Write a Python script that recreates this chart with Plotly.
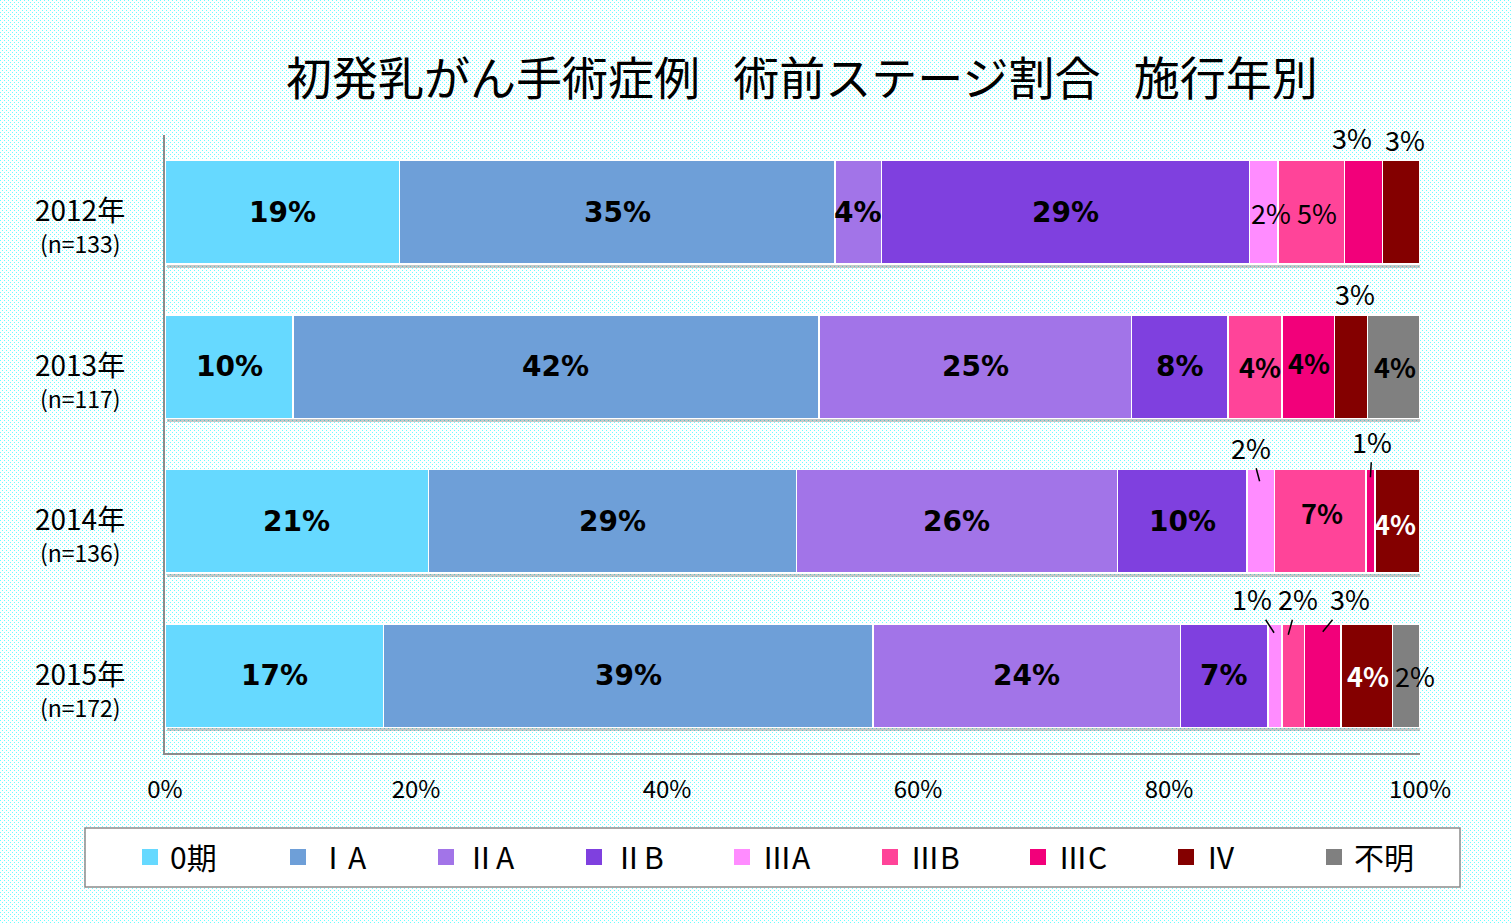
import base64
import struct
import zlib

import plotly.graph_objects as go

# ---------------- data ----------------
years = ["2012年", "2013年", "2014年", "2015年"]
n_labels = ["(n=133)", "(n=117)", "(n=136)", "(n=172)"]
stages = ["0期", "ⅠA", "ⅡA", "ⅡB", "ⅢA", "ⅢB", "ⅢC", "Ⅳ", "不明"]
# percentage of each stage per year (rows: years, cols: stages)
pct_2012 = [18.7, 34.7, 3.7, 29.3, 2.3, 5.3, 3.0, 3.0, 0.0]
pct_2013 = [10.2, 41.9, 24.9, 7.7, 0.0, 4.3, 4.2, 2.6, 4.2]
pct_2014 = [21.0, 29.3, 25.6, 10.3, 2.2, 7.3, 0.7, 3.6, 0.0]
pct_2015 = [17.4, 39.0, 24.5, 7.0, 1.1, 1.8, 2.9, 4.1, 2.2]
pct_rows = [pct_2012, pct_2013, pct_2014, pct_2015]
x_tick_vals = [0, 20, 40, 60, 80, 100]
x_tick_text = ["0%", "20%", "40%", "60%", "80%", "100%"]
title_text = "初発乳がん手術症例\u2002\u00a0術前ステージ割合\u2002\u00a0施行年別"

# ---------------- styles ----------------
colors = ["#66D9FF", "#6E9FD8", "#A274E8", "#7F40DF", "#FF8CFF",
          "#FF4499", "#F2007A", "#840000", "#808080"]

W, H = 1512, 923
ML, MR, MT, MB = 165, 92, 135, 170
PW, PH = W - ML - MR, H - MT - MB

# label placement: (year idx, stage idx, style, xshift, yshift, ax, ay)
label_specs = [
    (0, 0, "B", 0, 0, None, None), (0, 1, "B", 0, 0, None, None),
    (0, 2, "B", 0, 0, None, None), (0, 3, "B", 0, 0, None, None),
    (0, 4, "n", 7, 0, None, None), (0, 5, "n", 6, 0, None, None),
    (0, 6, "n", -12, 75, None, None), (0, 7, "n", 4, 73, None, None),
    (1, 0, "B", 0, 0, None, None), (1, 1, "B", 0, 0, None, None),
    (1, 2, "B", 0, 0, None, None), (1, 3, "B", 0, 0, None, None),
    (1, 5, "b", 5, 0, None, None), (1, 6, "b", 1, 4, None, None),
    (1, 7, "n", 4, 73, None, None), (1, 8, "b", 1, 0, None, None),
    (2, 0, "B", 0, 0, None, None), (2, 1, "B", 0, 0, None, None),
    (2, 2, "B", 0, 0, None, None), (2, 3, "B", 0, 0, None, None),
    (2, 4, "n", -1, 40, -9, -34), (2, 5, "b", 2, 9, None, None),
    (2, 6, "n", 0, 44, 2, -36), (2, 7, "bw", -2, -2, None, None),
    (3, 0, "B", 0, 0, None, None), (3, 1, "B", 0, 0, None, None),
    (3, 2, "B", 0, 0, None, None), (3, 3, "B", 0, 0, None, None),
    (3, 4, "n", -1, 43, -22, -34), (3, 5, "n", -5, 41, 10, -36),
    (3, 6, "n", 0, 44, 27, -33), (3, 7, "bw", 1, 0, None, None),
    (3, 8, "n", 9, 0, None, None),
]
fonts = {
    "B": dict(family="DejaVu Sans", size=28, color="black", weight="bold"),
    "b": dict(family="Noto Sans CJK JP", size=27, color="black", weight="bold"),
    "bw": dict(family="Noto Sans CJK JP", size=27, color="white", weight="bold"),
    "n": dict(family="Noto Sans CJK JP", size=27, color="black"),
}


# ---------------- background texture ----------------
def make_bg_png():
    white = b"\xff\xff\xff"
    dot = bytes([110, 252, 255])
    rowA = b"\x00" + b"".join(dot if x % 4 == 0 else white for x in range(W))
    rowB = b"\x00" + b"".join(dot if x % 4 == 2 else white for x in range(W))
    rowW = b"\x00" + white * W
    raw = b"".join(rowA if y % 4 == 0 else rowB if y % 4 == 2 else rowW for y in range(H))

    def chunk(t, d):
        return struct.pack(">I", len(d)) + t + d + struct.pack(">I", zlib.crc32(t + d) & 0xFFFFFFFF)

    png = (b"\x89PNG\r\n\x1a\n"
           + chunk(b"IHDR", struct.pack(">IIBBBBB", W, H, 8, 2, 0, 0, 0))
           + chunk(b"IDAT", zlib.compress(raw, 9))
           + chunk(b"IEND", b""))
    return "data:image/png;base64," + base64.b64encode(png).decode()


fig = go.Figure()

# shadow (base axes, slightly shifted)
totals = [sum(r) for r in pct_rows]
fig.add_trace(go.Bar(
    y=years, x=totals, orientation="h", xaxis="x", yaxis="y",
    marker=dict(color="rgba(0,0,0,0.22)", line=dict(width=0)),
    showlegend=False, hoverinfo="skip",
))

# main stacked bars
for si, st in enumerate(stages):
    fig.add_trace(go.Bar(
        y=years, x=[r[si] for r in pct_rows], orientation="h", name=st,
        xaxis="x2", yaxis="y2",
        marker=dict(color=colors[si], line=dict(color="white", width=1.5)),
        showlegend=False,
    ))

# legend proxies
for si, st in enumerate(stages):
    fig.add_trace(go.Scatter(
        x=[None], y=[None], mode="markers", name=st, xaxis="x2", yaxis="y2",
        marker=dict(symbol="square", size=16, color=colors[si], line=dict(width=0)),
        showlegend=True,
    ))

annotations = []
for yi, si, style, xs, ys, ax, ay in label_specs:
    row = pct_rows[yi]
    start = sum(row[:si])
    mid = start + row[si] / 2
    a = dict(x=mid, y=years[yi], xref="x2", yref="y2", text=f"{round(row[si])}%",
             font=fonts[style], xshift=xs, yshift=ys)
    if ax is None:
        a.update(showarrow=False)
    else:
        a.update(showarrow=True, ax=ax, ay=ay, arrowhead=0, arrowwidth=1.5,
                 arrowcolor="black", standoff=0)
    annotations.append(a)

lab_x = (80 - ML) / PW
for yi, yr in enumerate(years):
    annotations.append(dict(x=lab_x, xref="paper", y=yr, yref="y2", text=yr, showarrow=False,
                            xanchor="center", yshift=3,
                            font=dict(family="Noto Sans CJK JP", size=28, color="black")))
    annotations.append(dict(x=lab_x, xref="paper", y=yr, yref="y2", text=n_labels[yi],
                            showarrow=False, xanchor="center", yshift=-31,
                            font=dict(family="Noto Sans CJK JP", size=23, color="black")))

annotations.append(dict(x=(802 - ML) / PW, y=1 + (MT - 75) / PH, xref="paper", yref="paper",
                        text=title_text, showarrow=False, xanchor="center", yanchor="middle",
                        font=dict(family="Noto Sans CJK JP", size=46, color="black")))

sdx = 2 / (PW / 100)
sdy = 4 / (PH / 4)

fig.update_layout(
    width=W, height=H, autosize=False,
    margin=dict(l=ML, r=MR, t=MT, b=MB, autoexpand=False),
    paper_bgcolor="#E4FDFF", plot_bgcolor="rgba(0,0,0,0)",
    barmode="stack", bargap=0.333,
    xaxis=dict(range=[-sdx, 100 - sdx], visible=False, fixedrange=True),
    yaxis=dict(type="category", categoryarray=years, range=[3.5 - sdy, -0.5 - sdy],
               visible=False),
    xaxis2=dict(overlaying="x", side="bottom", range=[0, 100], tickvals=x_tick_vals,
                ticktext=x_tick_text, showgrid=False, zeroline=False, showline=True,
                linecolor="#8C8C8C", linewidth=1.5, ticks="", ticklabelstandoff=14,
                tickfont=dict(family="Noto Sans CJK JP", size=24, color="black")),
    yaxis2=dict(overlaying="y", side="left", type="category", categoryarray=years,
                range=[3.5, -0.5], showgrid=False, zeroline=False, showline=True,
                linecolor="#8C8C8C", linewidth=1.5, showticklabels=False, ticks=""),
    legend=dict(orientation="h", x=(130 - ML) / PW, xanchor="left",
                y=(PH - (857 - MT)) / PH, yanchor="middle", traceorder="normal",
                bgcolor="rgba(0,0,0,0)", borderwidth=0,
                entrywidth=103, entrywidthmode="pixels", itemclick=False,
                font=dict(family="Noto Sans CJK JP", size=30, color="black")),
    shapes=[dict(type="rect", xref="paper", yref="paper",
                 x0=(85 - ML) / PW, x1=(1460 - ML) / PW,
                 y0=(PH - (887 - MT)) / PH, y1=(PH - (828 - MT)) / PH,
                 fillcolor="white", line=dict(color="#8C8C8C", width=1.5), layer="below")],
    images=[dict(source=make_bg_png(), xref="paper", yref="paper", x=-ML / PW, y=1 + MT / PH,
                 sizex=W / PW, sizey=H / PH, xanchor="left", yanchor="top",
                 sizing="stretch", layer="below")],
    annotations=annotations,
    showlegend=True,
)

fig.write_html("out.html", config={"displayModeBar": False},
               post_script="document.body.style.margin='0';")
